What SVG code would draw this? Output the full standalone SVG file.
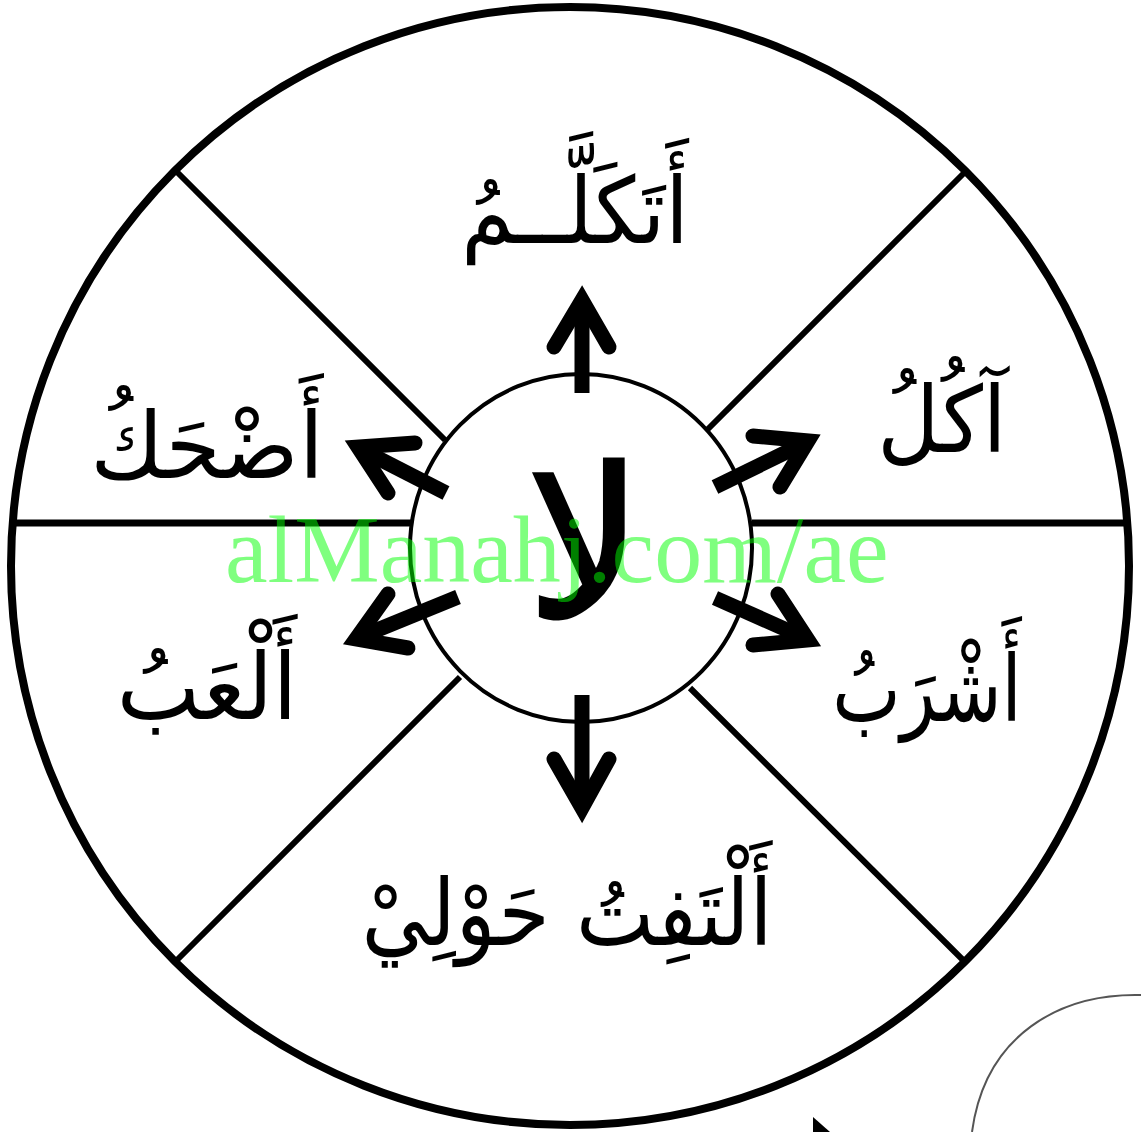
<svg xmlns="http://www.w3.org/2000/svg" width="1141" height="1132" viewBox="0 0 1141 1132">
<style>
.frame{fill:none;stroke:#000;stroke-width:8}
.div{fill:none;stroke:#000;stroke-width:6}
.shaft{fill:none;stroke:#000;stroke-width:15;stroke-linecap:butt}
.head{fill:none;stroke:#000;stroke-width:15;stroke-linecap:round;stroke-linejoin:miter;stroke-miterlimit:10}
.ar{font-family:"DejaVu Sans",sans-serif;font-size:92px;fill:#000;text-anchor:middle}
.wm{font-family:"Liberation Serif",serif;font-size:96px;fill:#00ff00;fill-opacity:0.5}
</style>
<rect width="1141" height="1132" fill="#fff"/>
<g id="frame">
<circle class="frame" cx="570" cy="566" r="559"/>
<line class="div" x1="11" y1="523" x2="412" y2="523" style="stroke-width:7"/>
<line class="div" x1="752" y1="523" x2="1129" y2="523" style="stroke-width:7"/>
<line class="div" x1="175" y1="170" x2="445" y2="440"/>
<line class="div" x1="965" y1="172" x2="707" y2="430"/>
<line class="div" x1="175" y1="962" x2="460" y2="677"/>
<line class="div" x1="965" y1="962" x2="690" y2="688"/>
</g>
<g id="center">
<ellipse cx="581" cy="548" rx="171" ry="174" fill="none" stroke="#000" stroke-width="4"/>
<text class="ar" x="585" y="617" style="font-size:208px;stroke:#000;stroke-width:3">لا</text>
</g>
<g id="connectors">
<line class="shaft" x1="582" y1="393" x2="582" y2="305"/>
<polyline class="head" points="554,347 582,300 609,347"/>
<line class="shaft" x1="582" y1="695" x2="582" y2="803"/>
<polyline class="head" points="554,759 582,808 609,759"/>
<line class="shaft" x1="446" y1="493" x2="362" y2="450"/>
<polyline class="head" points="415,443 358,447 388,493"/>
<line class="shaft" x1="458" y1="597" x2="360" y2="637"/>
<polyline class="head" points="388,594 356,639 408,648"/>
<line class="shaft" x1="715" y1="487" x2="805" y2="443"/>
<polyline class="head" points="753,436 808,441 780,487"/>
<line class="shaft" x1="715" y1="598" x2="805" y2="638"/>
<polyline class="head" points="753,645 808,640 778,594"/>
</g>
<g id="n-top"><text class="ar" transform="translate(575,243) scale(0.92,1)">أَتَكَلَّــمُ</text></g>
<g id="n-right-top"><text class="ar" transform="translate(942,452) scale(0.93,1)">آكُلُ</text></g>
<g id="n-left-top"><text class="ar" transform="translate(207,478) scale(0.97,1)">أَضْحَكُ</text></g>
<g id="n-right-bottom"><text class="ar" transform="translate(927,721) scale(0.79,1)">أَشْرَبُ</text></g>
<g id="n-left-bottom"><text class="ar" transform="translate(207,719) scale(0.96,1)">أَلْعَبُ</text></g>
<g id="n-bottom"><text class="ar" transform="translate(567,945) scale(0.9,1)">أَلْتَفِتُ حَوْلِيْ</text></g>
<g id="corner">
<path d="M1141 995 C1060 993 985 1035 972 1132" fill="none" stroke="#555" stroke-width="2"/>
<polygon points="813,1117 830,1132 813,1132" fill="#000"/>
</g>
<text class="wm" x="225" y="582">alManahj.com/ae</text>
</svg>
